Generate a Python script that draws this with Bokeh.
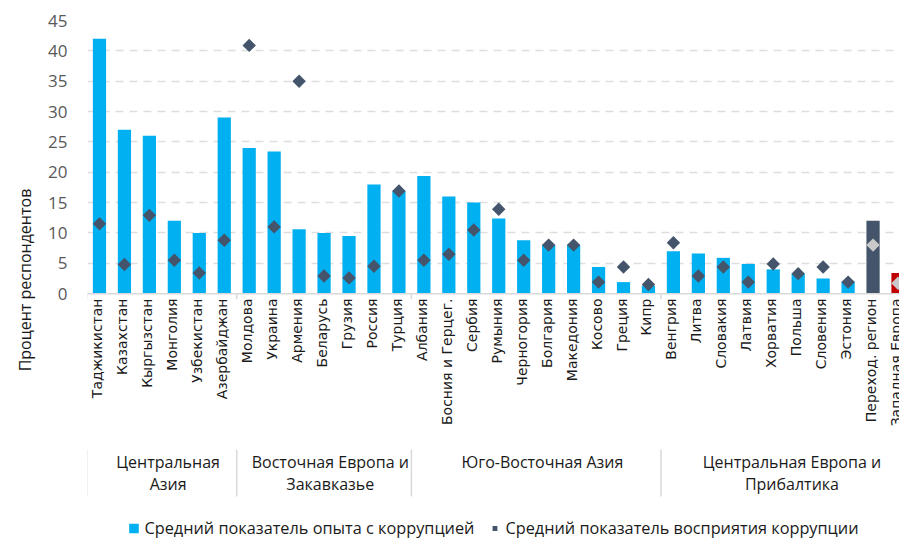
import numpy as np
from bokeh.plotting import figure
from bokeh.models import Range1d, FixedTicker, ColumnDataSource, Legend, LegendItem
from bokeh.core.properties import value
from bokeh.embed import file_html
from bokeh.resources import INLINE

# ---------------- data ----------------
countries = ["Таджикистан", "Казахстан", "Кыргызстан", "Монголия", "Узбекистан", "Азербайджан",
             "Молдова", "Украина", "Армения", "Беларусь", "Грузия", "Россия", "Турция",
             "Албания", "Босния и Герцег.", "Сербия", "Румыния", "Черногория", "Болгария",
             "Македония", "Косово", "Греция", "Кипр",
             "Венгрия", "Литва", "Словакия", "Латвия", "Хорватия", "Польша", "Словения", "Эстония",
             "Переход. регион", "Западная Европа"]
experience = [42, 27, 26, 12, 10, 29,
              24, 23.4, 10.6, 10, 9.5, 18, 16.9,
              19.4, 16, 15, 12.4, 8.8, 8, 8, 4.4, 1.9, 1.3,
              7, 6.6, 5.9, 4.9, 4, 3.3, 2.5, 2,
              12, 3.4]
perception = [11.5, 4.8, 12.9, 5.5, 3.4, 8.8,
              40.9, 11, 35, 2.9, 2.6, 4.5, 16.9,
              5.5, 6.5, 10.5, 13.9, 5.5, 8, 8, 1.9, 4.4, 1.5,
              8.4, 2.9, 4.4, 1.9, 4.9, 3.3, 4.4, 1.9,
              8, 1.7]
kinds = ["country"] * 31 + ["transition", "western"]
group_lines = [["Центральная", "Азия"],
               ["Восточная Европа и", "Закавказье"],
               ["Юго-Восточная Азия"],
               ["Центральная Европа и", "Прибалтика"]]
group_sizes = [6, 7, 10, 10]
y_ticks = [0, 5, 10, 15, 20, 25, 30, 35, 40, 45]
series_names = ["Средний показатель опыта с коррупцией", "Средний показатель восприятия коррупции"]
y_title = "Процент респондентов"

# ---------------- styles ----------------
bar_colors = {"country": "#00b0f0", "transition": "#44546a", "western": "#c00000"}
dia_colors = {"country": "#44546a", "transition": "#c9c9c9", "western": "#c9c9c9"}
FONT = "Open Sans"
n = len(countries)
idx = list(range(n))

src = ColumnDataSource(dict(
    x=idx, exp=experience, perc=perception, name=countries,
    bcol=[bar_colors[k] for k in kinds], dcol=[dia_colors[k] for k in kinds]))

p = figure(width=899, height=539, x_range=Range1d(-0.48, 32.06), y_range=Range1d(-40.5, 45),
           output_backend="svg", toolbar_location=None, x_axis_location=None,
           title=y_title, title_location="left",
           min_border_left=87, min_border_right=0, min_border_top=20, min_border_bottom=0)
p.outline_line_color = None
p.background_fill_color = "white"
p.border_fill_color = "white"
p.xgrid.visible = False
p.ygrid.ticker = FixedTicker(ticks=y_ticks[1:])
p.ygrid.grid_line_color = "#dedede"
p.ygrid.grid_line_width = 1.5
p.ygrid.grid_line_dash = "8 6"

p.title.align = "center"
p.title.offset = 86
p.title.standoff = 20
p.title.text_font = FONT
p.title.text_font_size = "16px"
p.title.text_font_style = "normal"
p.title.text_color = "#1a1a1a"

yax = p.yaxis[0]
yax.ticker = FixedTicker(ticks=y_ticks)
yax.axis_line_color = None
yax.major_tick_line_color = None
yax.minor_tick_line_color = None
yax.major_tick_out = 0
yax.minor_tick_out = 0
yax.major_tick_in = 0
yax.minor_tick_in = 0
yax.major_label_standoff = 20
yax.major_label_text_font = FONT
yax.major_label_text_font_size = "17px"
yax.major_label_text_color = "#595959"

# bars + diamonds
bars = p.vbar(x="x", top="exp", width=0.53, source=src, fill_color="bcol", line_color=None)
dias = p.scatter(x="x", y="perc", source=src, marker="square", angle=np.pi / 4, size=9.5,
                 fill_color="dcol", line_color=None)

# category axis line
p.segment(x0=[-0.5], y0=[0], x1=[n - 0.5], y1=[0], line_color="#d9d9d9", line_width=1.5)

# group boundaries
starts = np.cumsum([0] + group_sizes[:-1]) - 0.5
ends = np.cumsum(group_sizes) - 0.5
p.segment(x0=starts, y0=0, x1=starts, y1=-0.9, line_color="#d9d9d9", line_width=1.5)
p.segment(x0=starts, y0=-25.7, x1=starts, y1=-33.4, line_color="#d9d9d9", line_width=1.5)

# country labels
p.text(x="x", y=-0.8, text="name", source=src, angle=np.pi / 2, text_align="right",
       text_baseline="middle", text_font=value("DejaVu Sans"), text_font_size="14px",
       text_color="#1a1a1a", x_offset=-2)

# group labels
line_y = [-27.8, -31.4]
gx, gy, gt = [], [], []
for s, e, lines in zip(starts, ends, group_lines):
    for j, t in enumerate(lines):
        gx.append((s + e) / 2 + 0.25)
        gy.append(line_y[j])
        gt.append(t)
p.text(x=gx, y=gy, text=gt, text_align="center", text_baseline="middle",
       text_font=value(FONT), text_font_size="16px", text_color="#1a1a1a")

legend = Legend(items=[LegendItem(label=series_names[0], renderers=[bars], index=0),
                       LegendItem(label=series_names[1], renderers=[dias], index=0)],
                orientation="horizontal", location="bottom_center",
                background_fill_alpha=0, border_line_color=None,
                label_text_font=FONT, label_text_font_size="16.3px", label_text_color="#1a1a1a",
                glyph_width=12, glyph_height=12, spacing=14, label_standoff=5,
                padding=0, margin=0)
p.add_layout(legend)

open("out.html", "w").write(file_html(p, INLINE))
